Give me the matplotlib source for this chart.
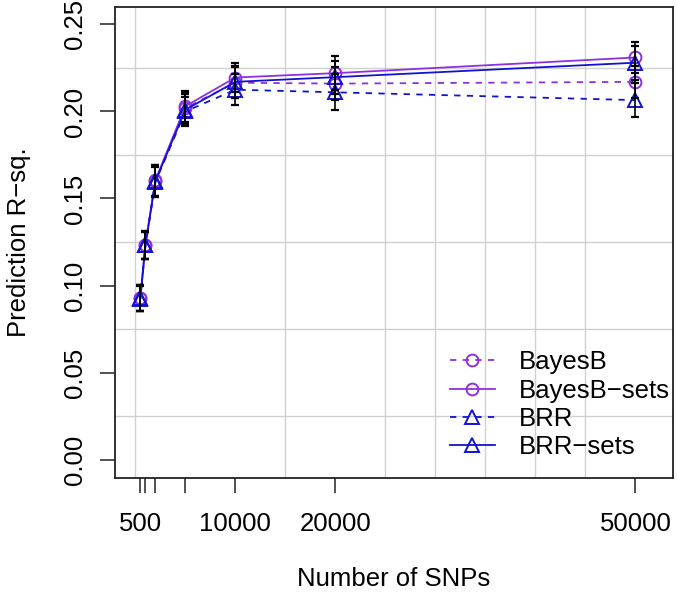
import numpy as np
import matplotlib
matplotlib.use("Agg")
import matplotlib.pyplot as plt
from matplotlib.ticker import FixedLocator

# data
snps = [500, 1000, 2000, 5000, 10000, 20000, 50000]
bayesb = [0.093, 0.123, 0.160, 0.202, 0.2165, 0.216, 0.217]
bayesb_err = [0.0075, 0.008, 0.009, 0.009, 0.009, 0.0095, 0.009]
bayesb_sets = [0.093, 0.1235, 0.1605, 0.203, 0.2195, 0.222, 0.231]
bayesb_sets_err = [0.0075, 0.008, 0.009, 0.009, 0.0083, 0.0098, 0.009]
brr = [0.0925, 0.123, 0.1595, 0.200, 0.2125, 0.211, 0.2065]
brr_err = [0.0072, 0.008, 0.0088, 0.0085, 0.009, 0.0103, 0.0097]
brr_sets = [0.093, 0.1232, 0.160, 0.201, 0.217, 0.2197, 0.228]
brr_sets_err = [0.0075, 0.0081, 0.0088, 0.009, 0.009, 0.0095, 0.0098]

tick_pos = [500, 1000, 2000, 5000, 10000, 20000, 50000]
tick_lab = ["500", "", "", "", "10000", "20000", "50000"]

purple = "#8F30E0"
blue = "#1212D2"

plt.rcParams["font.family"] = ["Liberation Sans", "DejaVu Sans"]
plt.rcParams["font.size"] = 18.5

fig = plt.figure(figsize=(6.77, 5.93), dpi=100)
ax = fig.add_axes([115 / 677, 1 - 477.7 / 593, (673 - 115) / 677, (477.7 - 7) / 593])

series = [
    ("BayesB", bayesb, bayesb_err, purple, (0, (3.5, 3.5)), "o", 8.5),
    ("BayesB\u2212sets", bayesb_sets, bayesb_sets_err, purple, "-", "o", 8.5),
    ("BRR", brr, brr_err, blue, (0, (3.5, 3.5)), "^", 10.5),
    ("BRR\u2212sets", brr_sets, brr_sets_err, blue, "-", "^", 10.5),
]
for name, y, e, col, ls, mk, ms in series:
    ax.plot(snps, y, color=col, linestyle=ls, lw=1.3, marker=mk, ms=ms,
            mfc="none", mec=col, mew=1.4, label=name, zorder=3)
for name, y, e, col, ls, mk, ms in series:
    ax.errorbar(snps, y, yerr=e, fmt="none", ecolor="black", elinewidth=1.2,
                capsize=2.6, capthick=1.6, zorder=4)

ax.set_xlim(-2040, 53760)
ax.set_ylim(-0.0104, 0.26)

ax.set_xticks(tick_pos)
ax.set_xticklabels(tick_lab)
ax.set_yticks(np.arange(0, 0.2501, 0.05))
ax.set_yticklabels(["0.00", "0.05", "0.10", "0.15", "0.20", "0.25"], rotation=90, va="center")
ax.xaxis.set_minor_locator(FixedLocator(np.arange(0, 50001, 5000)))
ax.yaxis.set_minor_locator(FixedLocator(np.arange(0, 0.2501, 0.025)))
ax.tick_params(which="major", length=11, width=1.1, color="#222222")
ax.tick_params(axis="x", which="major", pad=14)
ax.tick_params(axis="y", which="major", pad=9)
ax.tick_params(which="minor", length=0)
ax.grid(which="minor", color="#D0D0D0", lw=1.0)
ax.set_axisbelow(True)
for s in ax.spines.values():
    s.set_linewidth(1.3)
    s.set_color("#222222")

ax.set_xlabel("Number of SNPs")
ax.xaxis.label.set_va("center")
ax.xaxis.set_label_coords(0.5, (477.7 - 579) / 470.7)
ax.set_ylabel("Prediction R\u2212sq.")
ax.yaxis.label.set_va("center")
ax.yaxis.set_label_coords((19 - 115) / 558, 0.5)

ax.legend(loc="center left", bbox_to_anchor=(0.600, 0.155), frameon=False,
          borderpad=0, borderaxespad=0, handlelength=1.75, handletextpad=0.93,
          labelspacing=0.17)

fig.savefig("out.png", dpi=100)
